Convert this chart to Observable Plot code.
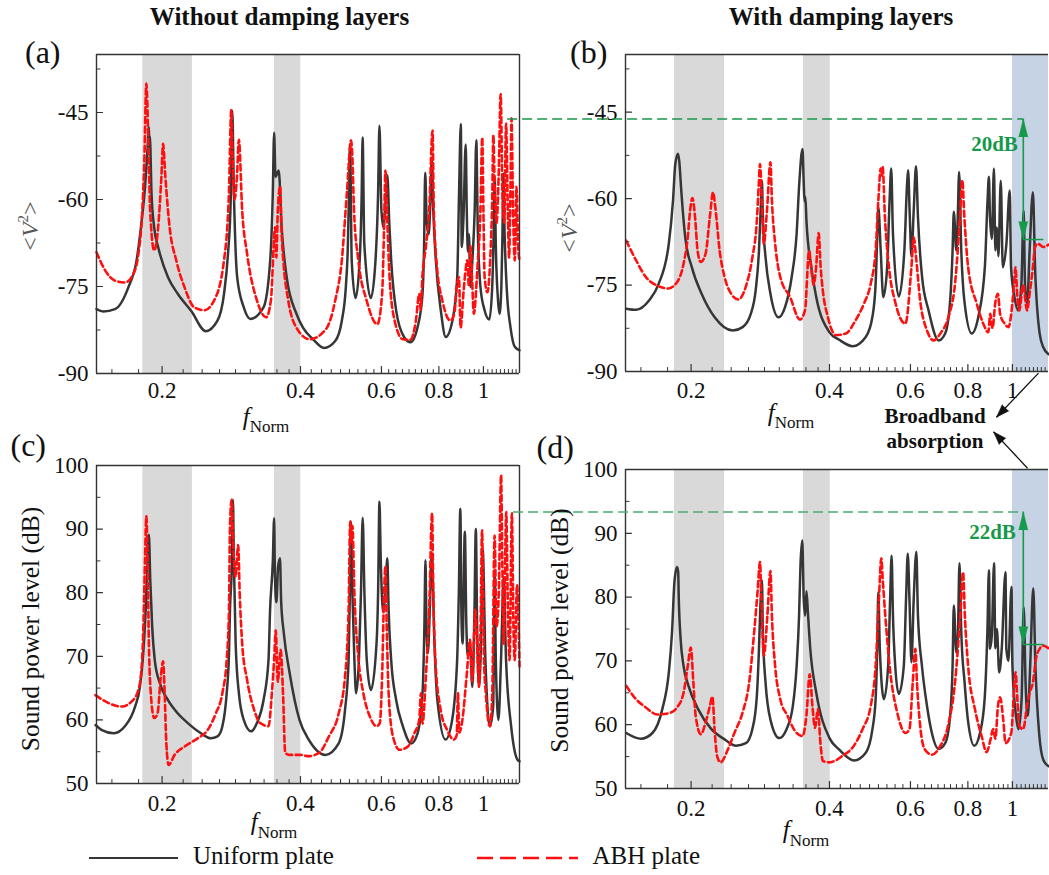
<!DOCTYPE html>
<html><head><meta charset="utf-8">
<script src="https://cdn.jsdelivr.net/npm/d3@7"></script>
<script src="https://cdn.jsdelivr.net/npm/@observablehq/plot@0.6"></script>
<style>
body{margin:0;background:#fff;}
#wrap{position:relative;width:1049px;height:875px;overflow:hidden;font-family:'Liberation Serif','Times New Roman',serif;}
</style></head><body><div id="wrap"></div>
<script>
// ---------- data: [fNorm, value] ----------
const aBlack = [[0.144,-78.9],[0.149,-79.3],[0.158,-78.9],[0.169,-75.1],[0.176,-70.5],[0.1806,-63.6],[0.1836,-57.9],[0.1857,-52.1],[0.1872,-47.5],[0.1876,-50.9],[0.1881,-49.1],[0.1897,-59],[0.1922,-64.8],[0.1961,-68.2],[0.206,-73.4],[0.2165,-76.3],[0.2313,-79.2],[0.249,-82.7],[0.2639,-80.9],[0.2727,-76.3],[0.2782,-69.4],[0.2819,-60.7],[0.2842,-44.7],[0.2866,-59],[0.2913,-73.4],[0.3011,-78.6],[0.3112,-80.6],[0.3324,-78.6],[0.3437,-70.5],[0.3482,-59],[0.3505,-48.5],[0.353,-56.1],[0.3587,-55],[0.364,-64.8],[0.3733,-73.4],[0.392,-79.7],[0.405,-82.1],[0.426,-84.1],[0.45,-85.6],[0.476,-84.4],[0.492,-80.9],[0.502,-75.1],[0.507,-68.2],[0.51,-59],[0.5128,-50.4],[0.517,-70.5],[0.527,-77],[0.538,-70.5],[0.5435,-59],[0.546,-49.3],[0.5506,-67.6],[0.569,-77],[0.5824,-70.5],[0.59,-59],[0.594,-47.3],[0.6,-61.9],[0.606,-64.8],[0.613,-60],[0.618,-55.8],[0.624,-64],[0.63,-70.5],[0.646,-79.2],[0.673,-83.8],[0.694,-84.6],[0.719,-82],[0.737,-76.3],[0.743,-67.6],[0.747,-55.4],[0.753,-64],[0.76,-66],[0.767,-60],[0.772,-53],[0.778,-62],[0.788,-70.5],[0.808,-79.2],[0.828,-83.7],[0.856,-80.9],[0.877,-73.4],[0.885,-59],[0.893,-47],[0.897,-68.2],[0.905,-63],[0.915,-50.5],[0.92,-62],[0.925,-69],[0.93,-66],[0.937,-75.1],[0.947,-70],[0.957,-62],[0.965,-49.8],[0.972,-65],[0.985,-75],[1.005,-79],[1.03,-80.7],[1.045,-75],[1.053,-65],[1.058,-56],[1.064,-68],[1.075,-77],[1.084,-79.7],[1.094,-75],[1.1,-66],[1.105,-55.5],[1.112,-66],[1.125,-76],[1.145,-82],[1.17,-85.4],[1.198,-86]];
const aRed = [[0.144,-69.1],[0.1506,-72.3],[0.158,-74],[0.1662,-74.3],[0.1733,-72.8],[0.1776,-69.4],[0.1806,-63.6],[0.183,-53.2],[0.1848,-40],[0.1871,-53.2],[0.1884,-61.9],[0.1922,-68.8],[0.1961,-64.8],[0.1993,-56.1],[0.201,-50.4],[0.2033,-56.1],[0.2077,-64.8],[0.2147,-70.5],[0.2237,-75.1],[0.235,-78.6],[0.247,-79.1],[0.2596,-77.4],[0.2727,-70.5],[0.2795,-59],[0.2828,-44.6],[0.2848,-53.2],[0.2875,-60],[0.291,-56],[0.2938,-49.7],[0.2987,-61.9],[0.3062,-69.4],[0.3216,-77.4],[0.337,-80.3],[0.3449,-77.4],[0.3523,-64.8],[0.3545,-70],[0.357,-62],[0.3612,-57.7],[0.364,-66],[0.367,-70.5],[0.3762,-77.4],[0.392,-82.1],[0.4188,-84.1],[0.455,-82.3],[0.476,-77.4],[0.492,-70.5],[0.5045,-59],[0.5155,-49.8],[0.519,-53.2],[0.523,-61.9],[0.5345,-70.5],[0.557,-77.4],[0.588,-81.5],[0.602,-76.3],[0.608,-64.8],[0.612,-55],[0.618,-64],[0.625,-73.4],[0.641,-80.9],[0.668,-84.1],[0.693,-84.2],[0.713,-80.9],[0.725,-76.3],[0.73,-79],[0.737,-73],[0.75,-68],[0.762,-61.9],[0.7751,-48.1],[0.78,-61.9],[0.7925,-71.7],[0.814,-77.4],[0.848,-80.9],[0.865,-79.5],[0.875,-75],[0.8845,-73.4],[0.892,-82.1],[0.905,-76],[0.915,-72],[0.922,-70.5],[0.93,-75],[0.937,-68],[0.945,-74],[0.953,-79.7],[0.97,-72],[0.985,-62],[0.994,-49.3],[1.0,-62],[1.006,-73.4],[1.02,-76],[1.035,-70],[1.045,-60],[1.051,-48.9],[1.058,-58],[1.068,-64],[1.08,-55],[1.09,-41.8],[1.1,-59],[1.11,-64],[1.12,-46.9],[1.13,-62],[1.137,-70],[1.145,-58],[1.151,-46],[1.16,-62],[1.17,-70.5],[1.18,-57.8],[1.19,-68],[1.198,-70.5]];
const bBlack = [[0.1445,-79.1],[0.1518,-79.3],[0.162,-77.7],[0.17,-74.8],[0.1789,-67.8],[0.1827,-60.3],[0.1848,-54],[0.1873,-52.2],[0.1885,-53.5],[0.1904,-58.6],[0.1942,-66.7],[0.2007,-71.9],[0.2108,-76.5],[0.2251,-80.6],[0.2464,-82.9],[0.2589,-82.3],[0.2697,-80],[0.2764,-75.9],[0.281,-69],[0.2833,-62.1],[0.2852,-56.9],[0.2865,-63.2],[0.2904,-70.2],[0.2976,-76.5],[0.31,-80.6],[0.3203,-78.8],[0.331,-73.6],[0.3393,-66.1],[0.3438,-57.4],[0.3494,-51.4],[0.3515,-57],[0.353,-60.5],[0.3545,-59.7],[0.3565,-64],[0.3652,-71.9],[0.3744,-77.1],[0.4,-83.2],[0.42,-84.5],[0.449,-85.6],[0.4797,-84],[0.496,-80.5],[0.504,-74.8],[0.508,-66.7],[0.5109,-61.5],[0.517,-69],[0.5237,-77.1],[0.534,-71.9],[0.5405,-60.3],[0.545,-54.8],[0.5497,-66.1],[0.566,-77],[0.582,-69],[0.59,-57.4],[0.593,-55.1],[0.598,-63],[0.603,-70],[0.61,-62],[0.617,-54.4],[0.623,-63.2],[0.636,-73.6],[0.657,-79.4],[0.691,-84.6],[0.714,-83.4],[0.732,-77.7],[0.741,-69],[0.7456,-62.3],[0.755,-69],[0.76,-64],[0.7657,-55.4],[0.774,-69],[0.786,-77.7],[0.8155,-83.4],[0.843,-80.5],[0.871,-71.9],[0.8828,-60.3],[0.889,-56.2],[0.8936,-63.2],[0.902,-67],[0.9115,-54.8],[0.918,-69],[0.925,-65],[0.932,-70],[0.9433,-56.9],[0.953,-71.9],[0.97,-68],[0.9867,-58.6],[0.993,-71.9],[1.01,-77],[1.029,-79.4],[1.046,-74.8],[1.058,-62.1],[1.065,-74.8],[1.077,-78.2],[1.09,-69],[1.108,-58.9],[1.12,-71.9],[1.146,-83.4],[1.167,-85.8],[1.198,-87]];
const bRed = [[0.1445,-67.3],[0.1518,-70.7],[0.1594,-73.6],[0.1689,-75.1],[0.1783,-75.6],[0.1864,-74.5],[0.1926,-71.3],[0.1967,-66.7],[0.199,-62.1],[0.2013,-59.9],[0.204,-63.2],[0.2066,-69],[0.2099,-71],[0.215,-69.6],[0.2197,-63.2],[0.2233,-58.9],[0.2258,-61.5],[0.2307,-69],[0.2365,-73.6],[0.2444,-76.5],[0.2534,-77.5],[0.263,-75.3],[0.272,-70.1],[0.2777,-64.4],[0.2808,-57.4],[0.2824,-54],[0.285,-60.3],[0.2879,-67.8],[0.2925,-62],[0.2976,-53.7],[0.2998,-60.3],[0.3047,-67.8],[0.3126,-73.6],[0.3284,-77.1],[0.345,-81],[0.3538,-79.4],[0.3612,-69],[0.365,-72],[0.3695,-75],[0.374,-72],[0.379,-66],[0.3827,-71.9],[0.3868,-75.9],[0.3966,-80.5],[0.413,-83.7],[0.4343,-83.4],[0.456,-81.1],[0.4755,-78.2],[0.4916,-74.8],[0.504,-69],[0.5109,-60.3],[0.517,-54.8],[0.5195,-56],[0.522,-54.5],[0.528,-63.2],[0.5388,-71.9],[0.557,-78.2],[0.585,-81.7],[0.603,-71.9],[0.61,-66.7],[0.617,-70.1],[0.63,-77.7],[0.652,-82.9],[0.674,-84.6],[0.697,-83.4],[0.726,-80.5],[0.75,-74.8],[0.769,-63.2],[0.778,-56.8],[0.786,-63.2],[0.801,-71.9],[0.836,-78.2],[0.864,-81.7],[0.886,-83.2],[0.895,-80],[0.905,-82.5],[0.918,-78],[0.93,-76.5],[0.94,-80],[0.962,-81.7],[0.98,-82.3],[1.0083,-74.8],[1.015,-71.9],[1.025,-77],[1.035,-79.4],[1.055,-75],[1.076,-79.4],[1.092,-76],[1.108,-71.9],[1.12,-68.4],[1.135,-67.8],[1.167,-68.4],[1.198,-68]];
const cBlack = [[0.1433,59.2],[0.148,58.4],[0.157,57.9],[0.166,59],[0.1747,62.1],[0.179,65.2],[0.182,70.5],[0.1842,77.3],[0.186,85.1],[0.1872,89.1],[0.1885,82],[0.1903,74.7],[0.1928,69.4],[0.1977,65.8],[0.206,63.1],[0.2165,61],[0.2275,59.5],[0.243,57.9],[0.2553,57.1],[0.264,57.4],[0.2705,59],[0.2764,64.2],[0.2796,70.5],[0.281,77.3],[0.2838,85.1],[0.2852,94.6],[0.2865,85.1],[0.2891,72],[0.2938,64.2],[0.3011,60],[0.3123,58.2],[0.3216,59.5],[0.3324,63.1],[0.3408,69.4],[0.3435,77.3],[0.3483,85.1],[0.3505,91.7],[0.352,82.5],[0.3545,78.5],[0.3575,84],[0.361,85.4],[0.363,78.8],[0.368,73.6],[0.379,67.3],[0.398,60],[0.4168,56.9],[0.4535,54.5],[0.4843,56.3],[0.5,61.6],[0.509,69.4],[0.5122,79.9],[0.5147,91.2],[0.5188,79.9],[0.524,69.4],[0.5285,64.2],[0.536,69.4],[0.5415,79.9],[0.5462,91.8],[0.551,79.9],[0.5575,69.4],[0.5692,64.7],[0.5854,72],[0.59,79.9],[0.594,94.3],[0.598,85.1],[0.605,77],[0.612,80],[0.618,85.4],[0.622,77.3],[0.63,69.4],[0.646,63.1],[0.668,59],[0.696,56.3],[0.719,57.9],[0.737,64.2],[0.744,74.7],[0.748,85.1],[0.752,74.7],[0.757,70.5],[0.765,78],[0.772,86.3],[0.7825,72],[0.794,63.1],[0.827,56.9],[0.855,60],[0.8766,69.4],[0.884,79.9],[0.8907,93.2],[0.896,76],[0.901,72],[0.911,89.6],[0.918,75],[0.925,70],[0.935,72],[0.946,65.2],[0.955,75],[0.9628,90],[0.969,74.7],[0.978,65.2],[0.99,75],[0.9966,86.7],[1.01,69.4],[1.033,59],[1.05,62.1],[1.058,83],[1.064,69.4],[1.078,60],[1.092,69.4],[1.107,82.5],[1.12,69.4],[1.149,59],[1.187,53.7],[1.198,53.5]];
const cRed = [[0.1433,63.9],[0.1506,62.9],[0.1635,62.1],[0.1718,62.9],[0.1776,64.7],[0.1806,68.4],[0.1823,75.7],[0.1836,85.1],[0.1848,92],[0.186,85.1],[0.1872,72],[0.189,64.2],[0.1922,60.3],[0.1955,61],[0.1987,66.8],[0.201,69.2],[0.2026,64.2],[0.2043,56.3],[0.2067,52.9],[0.2129,54.5],[0.2237,55.8],[0.239,57.1],[0.2512,58.4],[0.2617,61],[0.2705,64.2],[0.2764,69.4],[0.2796,77.3],[0.281,90.4],[0.2833,94.6],[0.2855,88],[0.289,82.5],[0.2928,87.5],[0.295,79.9],[0.2987,72],[0.3061,66.3],[0.3164,61.8],[0.327,59.5],[0.3408,59],[0.3466,64.2],[0.3505,69.4],[0.3534,74.1],[0.357,66],[0.3622,71],[0.3665,64.2],[0.3706,54.8],[0.3793,54.5],[0.3995,54.5],[0.4168,54.3],[0.4388,54.8],[0.4612,57.4],[0.4843,61],[0.5,66.8],[0.509,77.3],[0.5131,91.2],[0.517,88],[0.5188,90.5],[0.524,79.9],[0.535,69.4],[0.548,64.2],[0.5664,60.5],[0.5854,59],[0.595,59.5],[0.602,66.8],[0.608,79.9],[0.612,84.2],[0.616,74.7],[0.622,64.2],[0.6356,57.4],[0.657,55.3],[0.6846,55.8],[0.7075,57.9],[0.725,60],[0.7313,64.2],[0.737,59.4],[0.7495,66.8],[0.762,77.3],[0.7733,92.5],[0.778,79.9],[0.786,69.4],[0.807,61.6],[0.834,58.4],[0.862,56.9],[0.875,57.6],[0.88,64.2],[0.886,58],[0.9,60],[0.919,66.8],[0.935,72.6],[0.945,66],[0.96,77.3],[0.967,73.6],[0.978,65.2],[0.986,75],[0.993,89.8],[1.003,69.4],[1.012,64.2],[1.033,59],[1.045,64],[1.0575,89],[1.068,74.7],[1.08,80],[1.0925,98.5],[1.099,85.1],[1.107,72],[1.121,92.7],[1.13,78],[1.14,69.4],[1.153,92.5],[1.162,75],[1.17,69.4],[1.183,81.2],[1.198,68.4]];
const dBlack = [[0.1445,58.7],[0.1556,57.8],[0.1648,58.7],[0.1731,62.4],[0.1789,68.2],[0.1818,74.5],[0.184,82.4],[0.1864,84.7],[0.1875,83.9],[0.188,80],[0.1898,73.4],[0.1926,69.2],[0.1974,66.1],[0.2073,62.4],[0.2214,59.3],[0.2365,57.7],[0.2505,56.7],[0.2631,57.1],[0.2718,59.3],[0.2777,64],[0.2808,71.3],[0.283,78.7],[0.2852,82.6],[0.2865,74.5],[0.2904,66.6],[0.2976,60.8],[0.311,57.9],[0.3226,59.3],[0.3329,62.9],[0.3393,69.2],[0.3435,77.1],[0.3459,85],[0.349,88.9],[0.3515,80],[0.354,77.1],[0.3565,80.9],[0.359,77.6],[0.3633,71.9],[0.3744,65],[0.4,57.9],[0.42,56.1],[0.4527,54.4],[0.4797,55.6],[0.496,59.3],[0.504,64],[0.508,71.9],[0.5109,80.8],[0.5147,71.9],[0.5254,64],[0.5366,69.2],[0.542,79.8],[0.546,86.5],[0.5497,77.1],[0.556,69.2],[0.566,64.8],[0.5804,69.2],[0.587,79.8],[0.592,86.8],[0.597,79.8],[0.603,69.8],[0.61,79.8],[0.618,87.1],[0.623,77.1],[0.6356,69.2],[0.652,62.9],[0.668,58.7],[0.691,56.2],[0.714,57.1],[0.732,61.4],[0.741,69.2],[0.7456,78.7],[0.755,71.3],[0.761,74],[0.767,85.3],[0.774,74.5],[0.787,66.6],[0.8,60.8],[0.826,56.7],[0.85,58.7],[0.87,64],[0.882,74.5],[0.889,84.2],[0.8936,71.9],[0.902,74],[0.912,85.3],[0.918,72],[0.925,75],[0.936,68.2],[0.948,72],[0.9657,83.9],[0.97,71.9],[0.98,70],[0.9951,81.6],[1.0,69.2],[1.018,61.4],[1.031,59.3],[1.047,64],[1.0583,78.4],[1.068,66.6],[1.08,61.4],[1.093,69.2],[1.11,81.4],[1.122,69.2],[1.143,58.7],[1.167,54.5],[1.198,53.5]];
const dRed = [[0.1445,66.1],[0.1518,64],[0.1594,62.7],[0.1689,61.6],[0.1789,61.8],[0.1864,62.7],[0.1926,65],[0.1967,69.2],[0.1997,72.1],[0.2023,66.6],[0.2046,61.4],[0.2101,58.5],[0.215,60.3],[0.2197,62.9],[0.2225,64.4],[0.2252,58.7],[0.228,55],[0.2319,54.1],[0.2404,56.1],[0.2484,58.7],[0.2588,61.9],[0.2675,66.6],[0.2743,74.5],[0.279,80.8],[0.2824,85.5],[0.2844,79.8],[0.2879,70.8],[0.293,77],[0.2976,84.1],[0.2998,77.1],[0.3047,69.2],[0.3126,64],[0.3241,61.4],[0.3366,59],[0.3494,58.2],[0.3563,61.4],[0.3623,67.9],[0.3673,62.9],[0.372,59.5],[0.3775,62.4],[0.3823,57.1],[0.387,54.3],[0.4,54.1],[0.4266,55.1],[0.4509,56.6],[0.472,59.3],[0.4916,62.9],[0.504,69.2],[0.5125,79.8],[0.5185,86.1],[0.522,83],[0.529,77.1],[0.5425,68.2],[0.5615,61.9],[0.5853,58.7],[0.597,59.3],[0.607,66.6],[0.615,71.9],[0.62,66.6],[0.63,59.8],[0.645,56.1],[0.668,55.3],[0.696,56.6],[0.724,59.8],[0.75,66.6],[0.77,77.1],[0.781,83.9],[0.788,77.1],[0.801,69.2],[0.829,62.4],[0.857,58.2],[0.8786,55.7],[0.895,57.5],[0.908,59.3],[0.918,57.8],[0.93,62.9],[0.94,64.3],[0.955,60.8],[0.966,57.1],[0.994,58.7],[1.0158,68.2],[1.025,64],[1.035,59.8],[1.055,59.3],[1.076,62.9],[1.09,65],[1.108,66.6],[1.125,70.3],[1.146,71.9],[1.167,72.4],[1.198,72]];

// bands (fNorm intervals)
const grayBandsLeft = [[0.1816,0.2328],[0.351,0.4006]];
const grayBandsRight = [[0.184,0.2365],[0.351,0.4015]];
const blueBand = [1.0,1.198];

// axes
const xDom = [0.144, 1.198];
const xMajor = [0.2, 0.4, 0.6, 0.8, 1];
const xMinor = [];
for (let k = 0; k < 6; k++) for (let j = 1; j <= 8; j++) { const v = 0.2 * k + j * 0.2 / 9; if (v > xDom[0] && v < xDom[1]) xMinor.push(v); }
const vDom = [-90, -35], vMajor = [-90, -75, -60, -45], vMinor = [-82.5, -67.5, -52.5, -37.5];
const sDom = [50, 100], sMajor = [50, 60, 70, 80, 90, 100], sMinor = [55, 65, 75, 85, 95];

// annotations
const ann20 = {level: -46.2, low: -67.1, fx: 1.056, from: 0.0798, to: 1.17, label: "20dB", lx: 0.914, ly: -50.5, dash: "#17974a"};
const ann22 = {level: 93.34, low: 72.57, fx: 1.056, from: 0.0822, to: 1.17, label: "22dB", lx: 0.905, ly: 90.15, dash: "#46ad72"};
const broadArrows = [{x1: 1.1395, y1: 115.1, x2: 0.9233, y2: 108.2, rot: 223.7}, {x1: 1.0785, y1: 100.2, x2: 0.9097, y2: 105.9, rot: 316.6}];

const SERIF = "'Liberation Serif','Times New Roman',serif";
const GREEN = "#16994a";
const tickShape = {draw(ctx, l) { ctx.moveTo(0, 0); ctx.lineTo(0, -l); }};
const wrap = document.getElementById("wrap");

function annMarks(a) {
  return [
    Plot.ruleY([a], {y: d => d.level, x1: d => d.from, x2: d => d.fx, stroke: a.dash, strokeWidth: 1.5, strokeDasharray: "10,5"}),
    Plot.ruleY([a], {y: d => d.low, x1: d => d.fx, x2: d => d.to, stroke: GREEN, strokeWidth: 1.5}),
    Plot.ruleX([a], {x: d => d.fx, y1: d => d.level, y2: d => d.low, stroke: GREEN, strokeWidth: 1.6}),
    Plot.vector([a], {x: d => d.fx, y: d => d.level, rotate: 0, length: 18, r: 4.5, anchor: "end", shape: "spike", fill: GREEN, stroke: GREEN, strokeWidth: 0.5}),
    Plot.vector([a], {x: d => d.fx, y: d => d.low, rotate: 180, length: 18, r: 4.5, anchor: "end", shape: "spike", fill: GREEN, stroke: GREEN, strokeWidth: 0.5}),
    Plot.text([a], {x: d => d.lx, y: d => d.ly, text: d => d.label, fill: GREEN, fontWeight: "bold", fontSize: 21, fontFamily: SERIF})
  ];
}

function panel(o) {
  const marks = [];
  marks.push(Plot.rect(o.bands, {x1: d => d[0], x2: d => d[1], y1: o.yDom[0], y2: o.yDom[1], fill: "#d9d9d9"}));
  if (o.blue) marks.push(Plot.rect([o.blue], {x1: d => d[0], x2: d => d[1], y1: o.yDom[0], y2: o.yDom[1], fill: "#c6d3e4"}));
  marks.push(Plot.line(o.black, {x: d => d[0], y: d => d[1], stroke: "#363636", strokeWidth: 2.5, curve: "monotone-x"}));
  marks.push(Plot.line(o.red, {x: d => d[0], y: d => d[1], stroke: "#ff1010", strokeWidth: 2.6, strokeDasharray: "6,3.5", curve: "monotone-x"}));
  marks.push(Plot.ruleY([o.yDom[0], o.yDom[1]], {stroke: "#333", strokeWidth: 1.4}));
  marks.push(Plot.ruleX(o.rightFrame ? xDom : [xDom[0]], {stroke: "#333", strokeWidth: 1.4}));
  marks.push(Plot.vector(xMajor, {x: d => d, frameAnchor: "bottom", length: 7, rotate: 0, anchor: "start", shape: tickShape, stroke: "#333", strokeWidth: 1.2}));
  marks.push(Plot.vector(xMinor, {x: d => d, frameAnchor: "bottom", length: 4, rotate: 0, anchor: "start", shape: tickShape, stroke: "#333", strokeWidth: 1}));
  marks.push(Plot.vector(o.yMajor, {y: d => d, frameAnchor: "left", length: 6, rotate: 90, anchor: "start", shape: tickShape, stroke: "#333", strokeWidth: 1.2}));
  marks.push(Plot.vector(o.yMinor, {y: d => d, frameAnchor: "left", length: 3.5, rotate: 90, anchor: "start", shape: tickShape, stroke: "#333", strokeWidth: 1}));
  marks.push(Plot.text(xMajor, {x: d => d, frameAnchor: "bottom", dy: o.xPad, lineAnchor: "top", text: d => String(d), fontFamily: SERIF, fontSize: 23, fill: "#111"}));
  marks.push(Plot.text(o.yMajor, {y: d => d, frameAnchor: "left", dx: -8, textAnchor: "end", lineAnchor: "middle", text: d => String(d), fontFamily: SERIF, fontSize: 23, fill: "#111"}));
  marks.push(...(o.extra || []));
  const svg = Plot.plot({
    width: o.width, height: o.height,
    marginLeft: o.mL, marginRight: o.mR, marginTop: o.mT, marginBottom: o.mB,
    x: {type: "log", domain: xDom, axis: null},
    y: {domain: o.yDom, axis: null},
    style: {fontFamily: SERIF, fontSize: "23px", background: "transparent", overflow: "visible", color: "#111"},
    marks
  });
  svg.style.position = "absolute";
  svg.style.left = o.left + "px";
  svg.style.top = o.top + "px";
  wrap.appendChild(svg);
}

panel({black: aBlack, red: aRed, bands: grayBandsLeft, yDom: vDom, yMajor: vMajor, yMinor: vMinor, left: 0, top: 30, width: 530, height: 400, mL: 96, mR: 11, mT: 24, mB: 57, rightFrame: true, xPad: 8});
panel({black: bBlack, red: bRed, bands: grayBandsRight, blue: blueBand, yDom: vDom, yMajor: vMajor, yMinor: vMinor, left: 500, top: 30, width: 549, height: 400, mL: 125, mR: 1, mT: 24, mB: 59, rightFrame: false, xPad: 10, extra: annMarks(ann20)});
panel({black: cBlack, red: cRed, bands: grayBandsLeft, yDom: sDom, yMajor: sMajor, yMinor: sMinor, left: 0, top: 440, width: 530, height: 400, mL: 96, mR: 11, mT: 25, mB: 57, rightFrame: true, xPad: 11});
panel({black: dBlack, red: dRed, bands: grayBandsRight, blue: blueBand, yDom: sDom, yMajor: sMajor, yMinor: sMinor, left: 500, top: 365, width: 549, height: 480, mL: 125, mR: 1, mT: 104, mB: 57, rightFrame: false, xPad: 11,
  extra: [...annMarks(ann22),
    Plot.link(broadArrows, {x1: "x1", y1: "y1", x2: "x2", y2: "y2", stroke: "#111", strokeWidth: 1.3}),
    Plot.vector(broadArrows, {x: "x2", y: "y2", rotate: "rot", length: 13, r: 4.5, anchor: "end", shape: "spike", fill: "#111", stroke: "#111", strokeWidth: 0.5})]});

// ---------- text overlay ----------
const ns = "http://www.w3.org/2000/svg";
const ov = document.createElementNS(ns, "svg");
ov.setAttribute("width", 1049); ov.setAttribute("height", 875);
ov.style.position = "absolute"; ov.style.left = "0px"; ov.style.top = "0px";
ov.setAttribute("font-family", SERIF);
const fN = (cx, y, dy) => `<text x="${cx}" y="${y}" text-anchor="middle" fill="#111"><tspan font-style="italic" font-size="25">f</tspan><tspan font-size="17" dy="${dy}">Norm</tspan></text>`;
const vLab = (x, y) => `<text transform="translate(${x},${y}) rotate(-90)" text-anchor="middle" font-size="24" fill="#555">&lt;<tspan font-style="italic">V</tspan><tspan font-size="15" dy="-10">2</tspan><tspan dy="10">&gt;</tspan></text>`;
const sLab = (x, y) => `<text transform="translate(${x},${y}) rotate(-90)" text-anchor="middle" font-size="25.5" fill="#111">Sound power level (dB)</text>`;
ov.innerHTML = `
<text x="279.5" y="25" text-anchor="middle" font-size="25" font-weight="bold" fill="#111">Without damping layers</text>
<text x="841" y="25" text-anchor="middle" font-size="25" font-weight="bold" fill="#111">With damping layers</text>
<text x="25" y="62.5" font-size="32" fill="#111">(a)</text>
<text x="570" y="62.5" font-size="32" fill="#111">(b)</text>
<text x="10.5" y="456" font-size="32" fill="#111">(c)</text>
<text x="536.5" y="457.5" font-size="32" fill="#111">(d)</text>
${vLab(38, 226)}${vLab(576.5, 228)}
${sLab(38.5, 629)}${sLab(568.3, 630.5)}
${fN(266, 425, 7)}${fN(791, 421, 7)}${fN(274, 830, 8)}${fN(806, 838, 8)}
<text x="935" y="423" text-anchor="middle" font-size="21" font-weight="bold" fill="#111">Broadband</text>
<text x="935" y="448" text-anchor="middle" font-size="21" font-weight="bold" fill="#111">absorption</text>
<line x1="89" y1="858" x2="178" y2="858" stroke="#363636" stroke-width="2.2"/>
<text x="193" y="864" font-size="25" fill="#111">Uniform plate</text>
<line x1="477" y1="858" x2="578" y2="858" stroke="#ff1010" stroke-width="2.4" stroke-dasharray="16,7"/>
<text x="592.5" y="864" font-size="25" fill="#111">ABH plate</text>`;
wrap.appendChild(ov);
</script></body></html>
